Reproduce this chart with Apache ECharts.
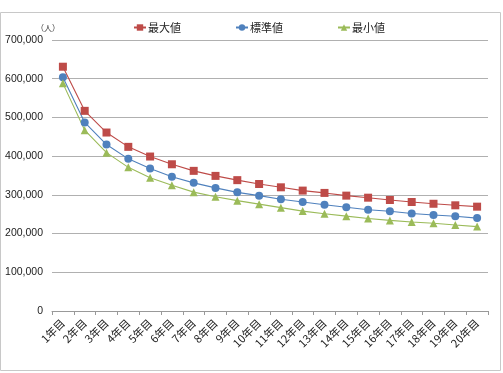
<!DOCTYPE html>
<html><head><meta charset="utf-8">
<script src="https://cdn.jsdelivr.net/npm/echarts@6/dist/echarts.min.js"></script>
<style>html,body{margin:0;padding:0;background:#fff}#c{width:503px;height:373px}</style>
</head><body><div id="c"></div>
<script>
const categories = ['1年目','2年目','3年目','4年目','5年目','6年目','7年目','8年目','9年目','10年目','11年目','12年目','13年目','14年目','15年目','16年目','17年目','18年目','19年目','20年目'];
const maxValues = [631000,517000,461000,424000,399000,379000,362000,349000,338000,328000,319500,311000,305000,298000,292700,286700,281500,277000,273000,269500];
const stdValues = [603600,487000,430000,393000,368000,347000,331000,318000,306500,298000,288500,281500,274600,268000,261700,257500,252000,248000,244600,240000];
const minValues = [588000,467000,409000,371000,344000,325000,307000,295000,285000,276000,267000,258000,251000,245000,239000,234000,230000,226500,222000,218000];
const seriesNames = ['最大値','標準値','最小値'];
const yTicks = {min:0,max:700000,interval:100000};
const unitLabel = '（人）';

const font = '"Liberation Sans","Noto Sans CJK JP",sans-serif';
const chart = echarts.init(document.getElementById('c'));
const mk = (name, data, color, symbol, size) => ({
  name, type:'line', data, symbol, symbolSize:size,
  lineStyle:{color, width:1.1}, itemStyle:{color},
  emphasis:{disabled:true}, animation:false
});
chart.setOption({
  animation:false,
  graphic:[{type:'rect', shape:{x:0.5,y:12.5,width:500,height:358}, style:{fill:'none',stroke:'#c8c8c8',lineWidth:1}},
           {type:'text', left:36, top:24, style:{text:unitLabel, font:'8px "Noto Sans CJK JP"', fill:'#333'}}],
  legend:{left:133, top:22, padding:0, itemGap:54, itemWidth:12, itemHeight:8,
    textStyle:{fontFamily:'"Noto Sans CJK JP"', fontSize:11, color:'#222', padding:[0,0,0,-3]},
    data:seriesNames},
  grid:{left:52, right:15, top:40, bottom:62, containLabel:false},
  xAxis:{type:'category', data:categories, boundaryGap:true,
    axisLine:{lineStyle:{color:'#999'}},
    axisTick:{show:true, length:4, lineStyle:{color:'#999'}, alignWithLabel:false},
    axisLabel:{rotate:45, fontSize:11, color:'#222', fontFamily:'"Noto Sans CJK JP"', margin:10, interval:0}},
  yAxis:{type:'value', min:yTicks.min, max:yTicks.max, interval:yTicks.interval,
    axisLine:{show:false}, axisTick:{show:false},
    splitLine:{lineStyle:{color:'#b0b0b0'}},
    axisLabel:{fontSize:10.5, color:'#222', fontFamily:font, margin:9,
      formatter:v=>v.toLocaleString('en-US')}},
  series:[
    mk(seriesNames[0], maxValues, '#BE4B48', 'rect', 8),
    mk(seriesNames[1], stdValues, '#4F81BD', 'circle', 8),
    mk(seriesNames[2], minValues, '#9BBB59', 'triangle', 8)
  ]
});
</script></body></html>
